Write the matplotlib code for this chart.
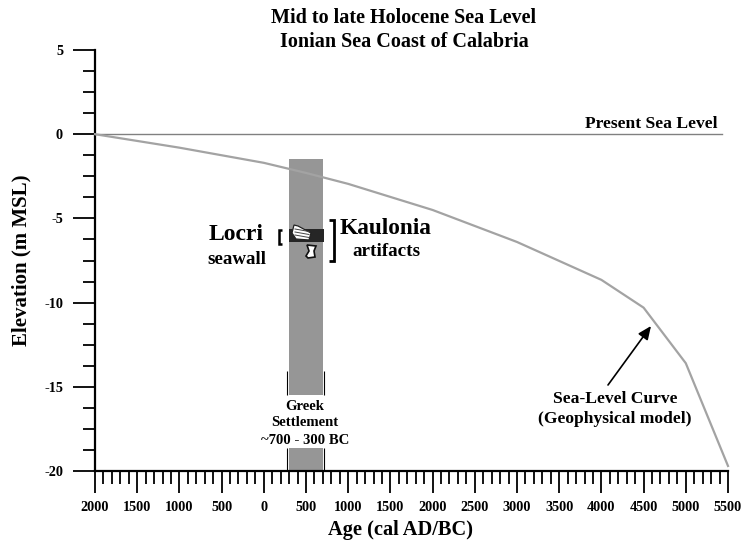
"""
Mid to late Holocene sea level curve, Ionian Sea coast of Calabria.
"""
import matplotlib
matplotlib.use("Agg")
import matplotlib.pyplot as plt
from matplotlib.patches import Polygon
from matplotlib.transforms import Affine2D

plt.rcParams["font.family"] = ["Liberation Serif", "DejaVu Serif"]
plt.rcParams["font.weight"] = "bold"

W, H = 753, 540

# age axis runs AD -> BC, so AD years are negative here
age = [-2000, -1000, 0, 500, 1000, 2000, 3000, 4000, 4500, 5000, 5500]
sea_level = [0, -0.8, -1.7, -2.3, -2.95, -4.5, -6.4, -8.65, -10.3, -13.6, -19.7]

age_ticks = [-2000, -1500, -1000, -500, 0, 500, 1000, 1500, 2000, 2500, 3000, 3500, 4000, 4500, 5000, 5500]
age_labels = ["2000", "1500", "1000", "500", "0", "500", "1000", "1500", "2000", "2500", "3000", "3500", "4000", "4500", "5000", "5500"]
age_minor = [a for a in range(-2000, 5501, 100) if a % 500 != 0]
elev_ticks = [5, 0, -5, -10, -15, -20]
elev_minor = [e * 1.25 for e in range(-16, 5) if e % 4 != 0]

settlement_start, settlement_end = 300, 700
settlement_top = -1.5
kaulonia_top, kaulonia_bottom = -5.6, -6.4
present_level_end = 5430

fig = plt.figure(figsize=(W / 100, H / 100), dpi=100)
ax = fig.add_axes([95 / W, 1 - 471 / H, (728 - 95) / W, (471 - 50) / H])
ax.set_xlim(-2000, 5500)
ax.set_ylim(-20, 5)

# pixel space, for the hand placed labels
px = Affine2D().scale(1, -1).translate(0, H)


def label(x, y, s, size, spacing=1.2):
    fig.text(x, y, s, transform=px, fontsize=size, ha="center", va="center",
             color="black", linespacing=spacing, zorder=10)


def rule(xs, ys, lw=1.1):
    fig.add_artist(plt.Line2D(xs, ys, transform=px, color="black", lw=lw, zorder=9,
                              solid_joinstyle="miter", solid_capstyle="butt"))


ax.axvspan(settlement_start, settlement_end, ymin=0, ymax=(settlement_top + 20) / 25,
           color="#969696", lw=0, zorder=1)
ax.axhspan(kaulonia_bottom, kaulonia_top, xmin=(settlement_start + 2000) / 7500,
           xmax=(settlement_end + 2010) / 7500, color="#262626", lw=0, zorder=2)
ax.plot([-2000, present_level_end], [0, 0], color="#808080", lw=1.0, zorder=3)
ax.plot(age, sea_level, color="#a3a3a3", lw=1.6, zorder=4, clip_on=False)

for side in ("top", "right"):
    ax.spines[side].set_visible(False)
ax.spines["left"].set_linewidth(1.6)
ax.spines["bottom"].set_linewidth(1.6)

ax.set_xticks(age_ticks)
ax.set_xticklabels(age_labels, fontsize=10.3)
ax.set_xticks(age_minor, minor=True)
ax.set_yticks(elev_ticks)
ax.set_yticklabels(["5", "0", "-5", "-10", "-15", "-20"], fontsize=10.3)
ax.set_yticks(elev_minor, minor=True)
ax.tick_params(axis="x", which="major", length=15.5, width=1.3, pad=6)
ax.tick_params(axis="x", which="minor", length=9, width=1.3)
ax.tick_params(axis="y", which="major", length=16, width=1.3, pad=7)
ax.tick_params(axis="y", which="minor", length=9, width=1.3)

# white gap in the band behind the settlement label
fig.add_artist(plt.Rectangle((280, 395), 50, 53, transform=px, color="white", lw=0, zorder=5))
rule([286.5, 286.5], [371, 395], lw=0.8)
rule([286.5, 286.5], [448, 471], lw=0.8)
rule([324.3, 324.3], [371, 395], lw=0.8)
rule([324.3, 324.3], [448, 471], lw=0.8)

label(404, 18, "Mid to late Holocene Sea Level", 14.5)
label(404, 42, "Ionian Sea Coast of Calabria", 14.5)
label(401, 530, "Age (cal AD/BC)", 14.7)
fig.text(21, 260, "Elevation (m MSL)", transform=px, fontsize=15, rotation=90,
         ha="center", va="center", color="black")
label(651, 124, "Present Sea Level", 12.6)
label(305, 423, "Greek\nSettlement\n~700 - 300 BC", 10.6, spacing=1.4)
label(236, 235, "Locri", 17)
label(237, 259, "seawall", 13.6)
label(386, 228, "Kaulonia", 16.8)
label(386, 252, "artifacts", 13.8)
label(615, 409, "Sea-Level Curve\n(Geophysical model)", 12.6, spacing=1.4)

# brackets either side of the band
rule([282, 278.5, 278.5, 282], [229.5, 229.5, 243.5, 243.5], lw=1.8)
rule([329, 334, 334, 329], [219.5, 219.5, 260.5, 260.5], lw=2.0)

# artifact sketches
fig.add_artist(Polygon([(294, 225), (298, 226), (311, 233), (309, 240), (296, 239), (292, 233)],
                       transform=px, fc="white", ec="#222222", lw=0.9, zorder=8))
for y0 in (230, 233, 236):
    fig.add_artist(plt.Line2D([295, 309], [y0 - 1, y0 + 1.5], transform=px, color="#444444", lw=0.7, zorder=9))
fig.add_artist(Polygon([(307, 245), (316, 246), (314, 251), (315, 257), (308, 258), (306, 256), (309, 251)],
                       transform=px, fc="white", ec="#111111", lw=1.2, zorder=8))

ax.annotate("", xy=(651, H - 326), xycoords="figure pixels", xytext=(608, H - 385), textcoords="figure pixels",
            arrowprops=dict(arrowstyle="-|>,head_length=0.8,head_width=0.35", color="black", lw=1.2, shrinkA=0, shrinkB=0))

fig.savefig("out.png", dpi=100)
